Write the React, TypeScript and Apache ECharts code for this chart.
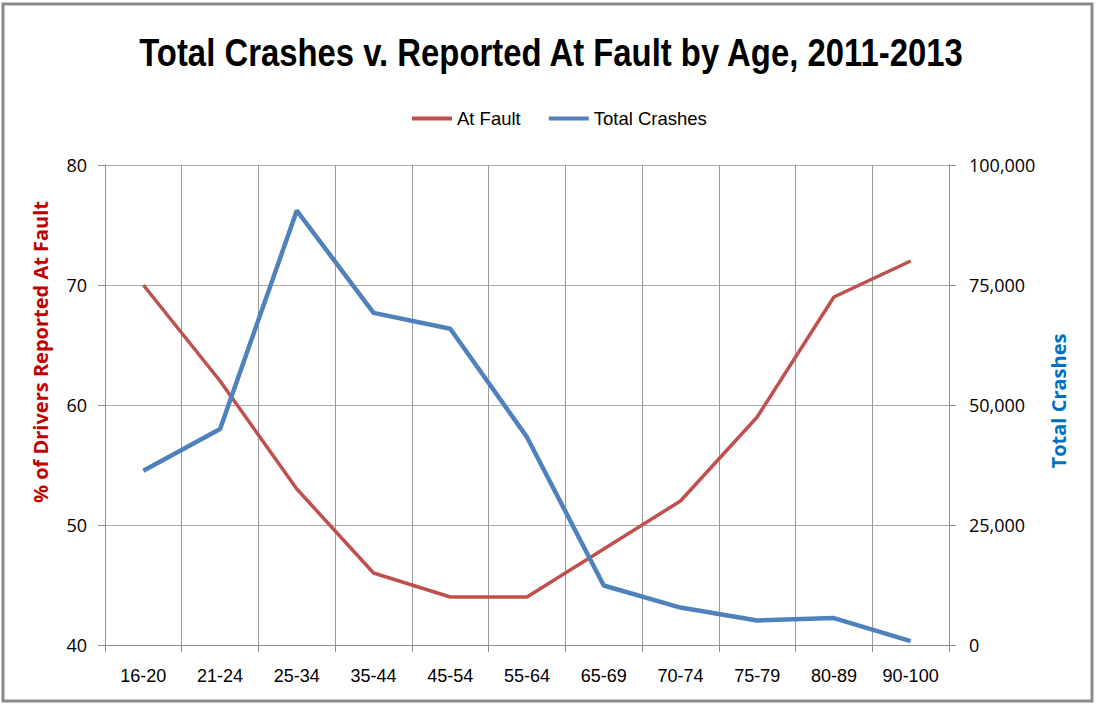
import React, { useEffect, useRef } from "react";
import * as echarts from "echarts";

const categories = ["16-20", "21-24", "25-34", "35-44", "45-54", "55-64", "65-69", "70-74", "75-79", "80-89", "90-100"];
const atFault = [70, 62, 53, 46, 44, 44, 48, 52, 59, 69, 72];
const totalCrashes = [36300, 45000, 90500, 69200, 65900, 43300, 12400, 7800, 5100, 5600, 800];
const leftTicks = { min: 40, max: 80, interval: 10 };
const rightTicks = { min: 0, max: 100000, interval: 25000 };

const FONT = "'Liberation Sans', Arial, sans-serif";
const BOLD = "'Open Sans', 'DejaVu Sans', sans-serif";

export default function App() {
  const ref = useRef<HTMLDivElement>(null);
  useEffect(() => {
    if (!ref.current) return;
    const chart = echarts.init(ref.current, null, { renderer: "svg" });
    chart.setOption({
      animation: false,
      backgroundColor: "#fff",
      legend: {
        top: 104,
        left: 407,
        itemWidth: 40,
        itemHeight: 4,
        itemGap: 28,
        icon: "rect",
        textStyle: { fontFamily: FONT, fontSize: 18.5, color: "#000" },
        data: ["At Fault", "Total Crashes"],
      },
      grid: { left: 105, right: 151, top: 165, bottom: 60 },
      xAxis: {
        type: "category",
        data: categories,
        boundaryGap: true,
        axisLine: { lineStyle: { color: "#8c8c8c", width: 1 } },
        axisTick: { show: true, interval: 0, length: 7, lineStyle: { color: "#8c8c8c" } },
        splitLine: { show: true, interval: 0, lineStyle: { color: "#9a9a9a", width: 1 } },
        axisLabel: { interval: 0, fontFamily: FONT, fontSize: 18, color: "#000", margin: 22 },
      },
      yAxis: [
        {
          type: "value",
          ...leftTicks,
          position: "left",
          axisLine: { show: true, lineStyle: { color: "#8c8c8c" } },
          axisTick: { show: true, length: 7, lineStyle: { color: "#8c8c8c" } },
          splitLine: { show: true, lineStyle: { color: "#ababab", width: 1 } },
          axisLabel: { fontFamily: "'Open Sans', 'Noto Sans', sans-serif", fontSize: 18, color: "#000", margin: 18 },
        },
        {
          type: "value",
          ...rightTicks,
          position: "right",
          axisLine: { show: true, lineStyle: { color: "#8c8c8c" } },
          axisTick: { show: true, length: 7, lineStyle: { color: "#8c8c8c" } },
          splitLine: { show: false },
          axisLabel: {
            fontFamily: "'Open Sans', 'Noto Sans', sans-serif",
            fontSize: 18,
            color: "#000",
            margin: 20,
            formatter: (v: number) => v.toLocaleString("en-US"),
          },
        },
      ],
      graphic: [
        {
          type: "text",
          x: 551,
          y: 53,
          scaleX: 0.865,
          style: {
            text: "Total Crashes v. Reported At Fault by Age, 2011-2013",
            fontFamily: FONT,
            fontWeight: "bold",
            fontSize: 38,
            fill: "#000",
            align: "center",
            verticalAlign: "middle",
          },
        },
        {
          type: "text",
          x: 40,
          y: 352,
          rotation: Math.PI / 2,
          style: {
            text: "% of Drivers Reported At Fault",
            fontFamily: BOLD,
            fontWeight: "bold",
            fontSize: 20,
            fill: "#C00000",
            align: "center",
            verticalAlign: "middle",
          },
        },
        {
          type: "text",
          x: 1058,
          y: 401,
          rotation: Math.PI / 2,
          style: {
            text: "Total Crashes",
            fontFamily: BOLD,
            fontWeight: "bold",
            fontSize: 20,
            fill: "#0070C0",
            align: "center",
            verticalAlign: "middle",
          },
        },
        {
          type: "rect",
          shape: { x: 3, y: 4, width: 1089, height: 697 },
          style: { fill: "none", stroke: "#8a8a8a", lineWidth: 3 },
          silent: true,
        },
      ],
      series: [
        {
          name: "At Fault",
          type: "line",
          yAxisIndex: 0,
          data: atFault,
          symbol: "none",
          lineStyle: { color: "#C0504D", width: 3.5 },
          itemStyle: { color: "#C0504D" },
        },
        {
          name: "Total Crashes",
          type: "line",
          yAxisIndex: 1,
          data: totalCrashes,
          symbol: "none",
          lineStyle: { color: "#4F81BD", width: 4.5 },
          itemStyle: { color: "#4F81BD" },
        },
      ],
    });
    return () => chart.dispose();
  }, []);
  return <div ref={ref} style={{ width: 1100, height: 705, position: "absolute", left: 0, top: 0 }} />;
}
